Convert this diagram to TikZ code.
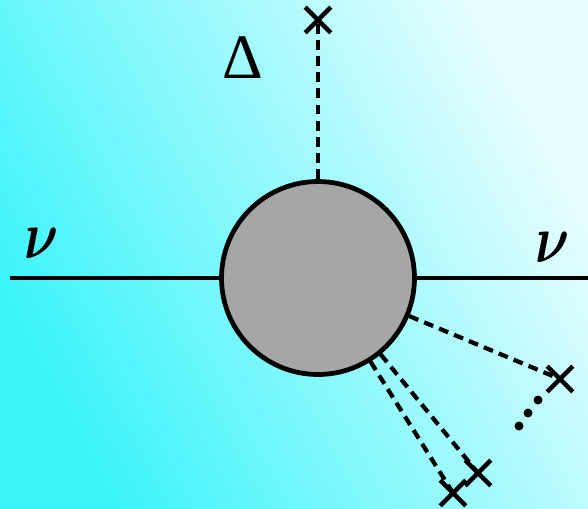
\documentclass[tikz,border=0pt]{standalone}
\usepackage{bm}
\usepackage{fontspec}
\newfontfamily\symfont{Liberation Serif}
\usetikzlibrary{shapes.misc}
\definecolor{bgleft}{RGB}{58,244,250}
\definecolor{bgright}{RGB}{232,253,255}
\definecolor{blobgray}{RGB}{166,166,166}
\tikzset{
  prop/.style={line width=2pt},
  ins/.style={line width=2.4pt,dash pattern=on 5.6pt off 3.6pt},
  insx/.style={cross out,draw,line width=2.6pt,minimum size=0.42cm,inner sep=0pt},
  nulabel/.style={font=\Huge,scale=1.55,xscale=0.78},
  gaplabel/.style={font=\symfont\fontsize{36}{38}\selectfont}
}

\begin{document}
\begin{tikzpicture}[x=0.02cm,y=-0.02cm]
    % background
    \shade[shading=axis,left color=bgleft,right color=bgright,shading angle=118]
      (0,0) rectangle (588,508);
    \useasboundingbox (0,0) rectangle (588,508);
    % self energy blob
    \node[circle,draw,line width=2.7pt,fill=blobgray,
      minimum size=3.86cm] (blob) at (318,278) {};
    \coordinate (nuin) at (10,278);
    \coordinate (nuout) at (588,278);
    \draw[prop] (nuin) -- (blob.west);
    \draw[prop] (blob.east) -- (nuout);
    \node[nulabel] (nul) at (42,243) {$\bm{\nu}$};
    \node[nulabel] (nur) at (553,247) {$\bm{\nu}$};
    % condensate insertions
    \node[insx] (xtop) at (318,20) {};
    \node[insx] (xa) at (560,379) {};
    \node[insx] (xb) at (478,473) {};
    \node[insx] (xc) at (453,493) {};
    \draw[ins] (blob.north) -- (xtop.center);
    \draw[ins] (blob) -- (xa.center);
    \draw[ins] (blob) -- (xb.center);
    \draw[ins] (blob) -- (xc.center);
    \node[gaplabel] (gap) at (243,58) {Δ};
    \foreach \px/\py in {519/426,528/413,538/400}
      \fill (\px,\py) circle (0.09cm);
  \end{tikzpicture}
\end{document}
